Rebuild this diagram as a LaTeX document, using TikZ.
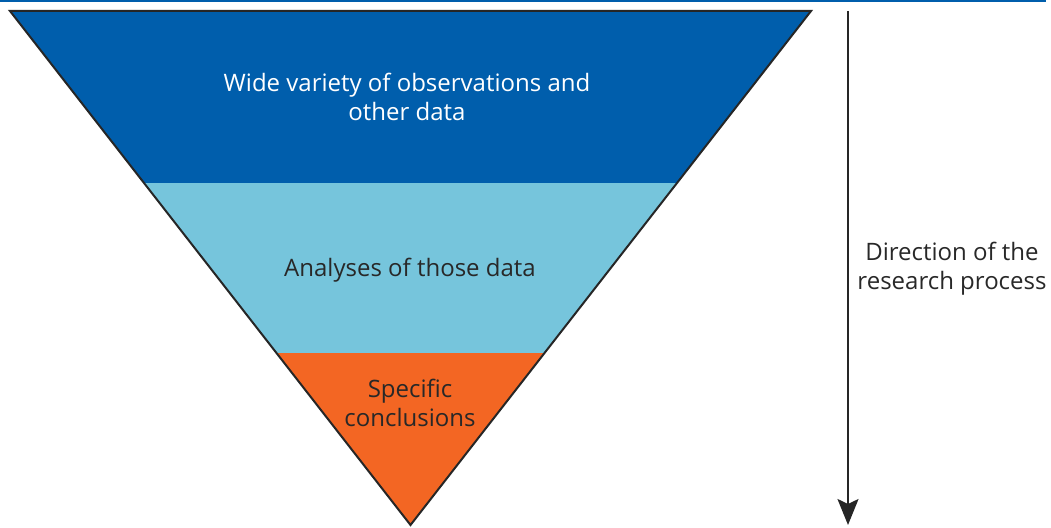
\documentclass[tikz,border=0pt]{standalone}
\usepackage{fontspec}
\setmainfont{Open Sans}
\usetikzlibrary{arrows.meta}
\definecolor{topblue}{RGB}{0,94,172}
\definecolor{midblue}{RGB}{118,197,220}
\definecolor{orng}{RGB}{243,102,35}
\definecolor{txtdark}{RGB}{40,40,40}
\tikzset{
  lbl/.style={font=\fontsize{24}{29}\selectfont, align=center, inner sep=0pt},
  edge/.style={draw=black!85, line width=2pt, line join=miter},
}
\begin{document}
\begin{tikzpicture}[x=1pt,y=-1pt]
\useasboundingbox (0,0) rectangle (1051,527);
% top rule
\fill[topblue] (0,0) rectangle (1046,2);
% triangle corners
\coordinate (TL) at (10,11);
\coordinate (TR) at (811,11);
\coordinate (B) at (410.5,525);
\coordinate (L1) at (144,183);
\coordinate (R1) at (677,183);
\coordinate (L2) at (277,353);
\coordinate (R2) at (544,353);
\fill[topblue] (TL) -- (TR) -- (R1) -- (L1) -- cycle;
\fill[midblue] (L1) -- (R1) -- (R2) -- (L2) -- cycle;
\fill[orng] (L2) -- (R2) -- (B) -- cycle;
\draw[edge] (TL) -- (TR) -- (B) -- cycle;
% labels
\node[lbl, text=white] (wide) at (407,97) {Wide variety of observations and\\other data};
\node[lbl, text=txtdark] (anal) at (410,270) {Analyses of those data};
\node[lbl, text=txtdark] (spec) at (410,403) {Specific\\conclusions};
% direction arrow
\coordinate (atop) at (848,11);
\coordinate (abot) at (848,525);
\draw[line width=2pt, draw=black!85, -{Stealth[length=26pt,width=21pt,inset=5pt]}] (atop) -- (abot);
\node[lbl, text=txtdark] (dir) at (952,269) {Direction of the\\research process};
\end{tikzpicture}
\end{document}
